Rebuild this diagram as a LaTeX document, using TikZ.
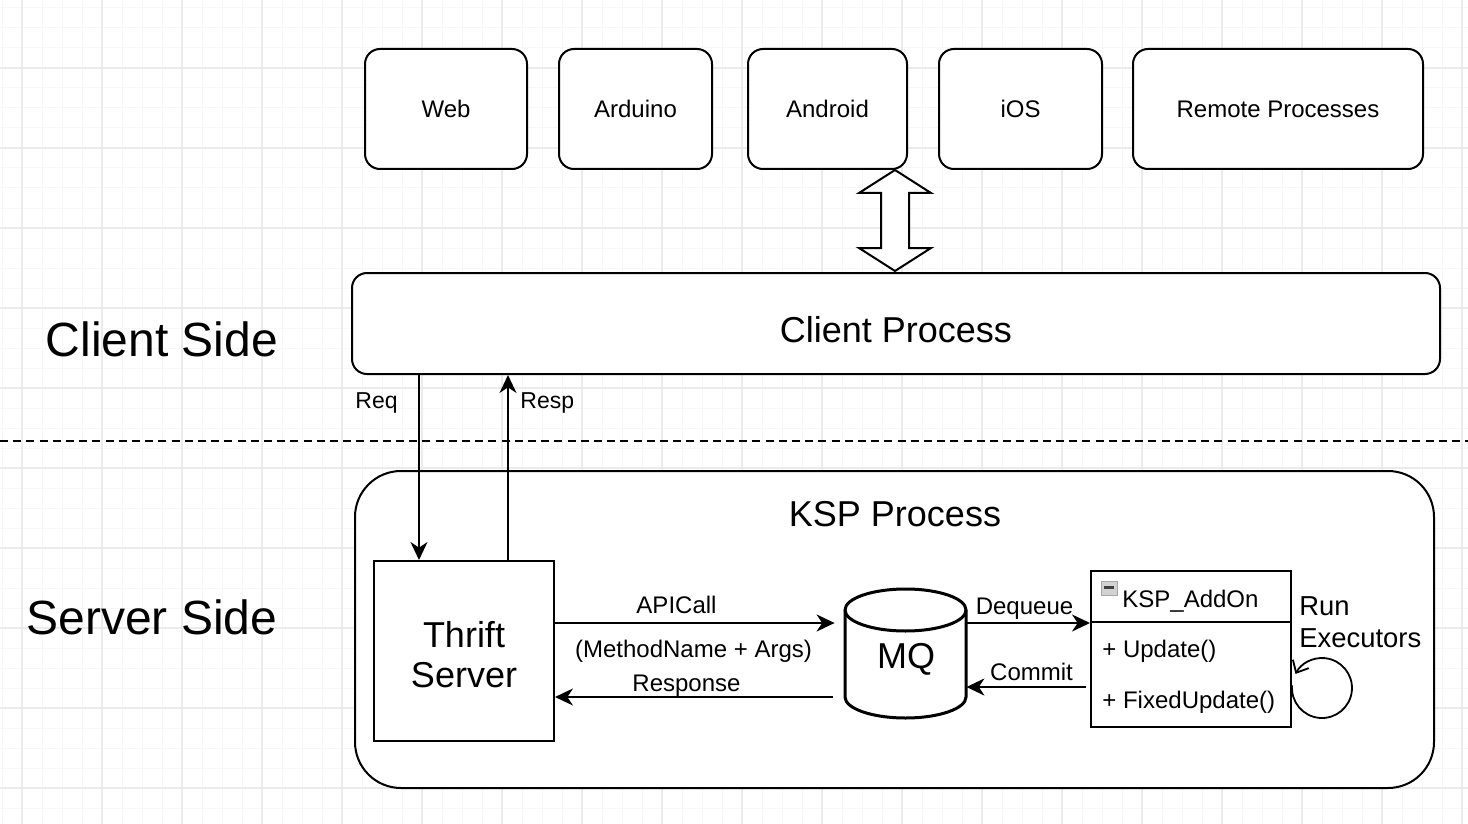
\documentclass[tikz,border=0pt]{standalone}
\usepackage{fontspec}
\setmainfont{Liberation Sans}
\usetikzlibrary{arrows.meta}
\definecolor{gridminor}{HTML}{F7F7F7}
\definecolor{gridmajor}{HTML}{EBEBEB}
\begin{document}
\begin{tikzpicture}[x=0.5pt,y=-0.5pt,
  topbox/.style={draw, line width=1pt, fill=white, rounded corners=7.5pt, minimum height=60pt, inner sep=0pt, font=\fontsize{12}{14}\selectfont},
  plainbox/.style={draw, line width=1pt, fill=white, inner sep=0pt},
  arr/.style={line width=1pt, -{Stealth[length=9pt,width=8.5pt,inset=2.8pt]}},
  lbl/.style={inner sep=0pt, anchor=base, font=\fontsize{12}{14}\selectfont},
  big/.style={inner sep=0pt, anchor=base, font=\fontsize{18}{20}\selectfont},
  huge/.style={inner sep=0pt, anchor=base, font=\fontsize{24}{28}\selectfont},
]
\useasboundingbox (0,0) rectangle (1468,824);
\fill[white] (0,0) rectangle (1468,824);
% grid
\foreach \x in {2,22,...,1462} \draw[gridminor, line width=0.5pt] (\x,0) -- (\x,824);
\foreach \y in {8,28,...,808} \draw[gridminor, line width=0.5pt] (0,\y) -- (1468,\y);
\foreach \x in {22,102,...,1462} \draw[gridmajor, line width=0.6pt] (\x,0) -- (\x,824);
\foreach \y in {68,148,...,788} \draw[gridmajor, line width=0.6pt] (0,\y) -- (1468,\y);

% side labels
\node[huge] (clientside) at (162,356) {Client Side};
\node[huge] (serverside) at (152,634) {Server Side};

% separator
\draw[line width=1pt, dash pattern=on 4pt off 2.6pt] (0,441) -- (1468,441);

% top boxes
\node[topbox, minimum width=81pt] (web) at (446,109) {Web};
\node[topbox, minimum width=76.5pt] (arduino) at (635.5,109) {Arduino};
\node[topbox, minimum width=79.5pt] (android) at (827.5,109) {Android};
\node[topbox, minimum width=81.5pt] (ios) at (1020.5,109) {iOS};
\node[topbox, minimum width=145pt] (remote) at (1278,109) {Remote Processes};

% client process
\node[draw, line width=1pt, fill=white, rounded corners=7.5pt, minimum width=544pt, minimum height=50.5pt, inner sep=0pt] (clientproc) at (896,323.5) {};
\node[big] (clientproctext) at (896,342) {Client Process};

% double block arrow
\draw[line width=1pt, fill=white, line join=miter] (895,170) -- (859,193) -- (881,193) -- (881,248) -- (859,248) -- (895,271) -- (931,248) -- (909,248) -- (909,193) -- (931,193) -- cycle;

% KSP process container
\node[draw, line width=1pt, fill=white, rounded corners=23pt, minimum width=539.5pt, minimum height=158.5pt, inner sep=0pt] (ksp) at (894.5,629.5) {};
\node[big] (ksptext) at (895,526) {KSP Process};

% thrift server
\node[plainbox, minimum width=90pt, minimum height=90pt] (thrift) at (464,651) {};
\node[big] (thrift1) at (464,647) {Thrift};
\node[big] (thrift2) at (464,687) {Server};

% req / resp
\coordinate (reqx) at (419,0);
\coordinate (respx) at (508,0);
\draw[arr] (clientproc.south -| reqx) -- (thrift.north -| reqx);
\draw[arr] (thrift.north -| respx) -- (clientproc.south -| respx);
\node[lbl, anchor=base west, font=\fontsize{11.5}{13}\selectfont] (reqlbl) at (355,408) {Req};
\node[lbl, anchor=base west, font=\fontsize{11.5}{13}\selectfont] (resplbl) at (520,408) {Resp};

% MQ cylinder
\node[inner sep=0pt, minimum width=60.5pt, minimum height=64.5pt] (mq) at (905.5,653.5) {};
\draw[line width=1.5pt, fill=white] (845,610) -- (845,697) arc[start angle=180, end angle=360, x radius=30.25pt, y radius=10.5pt] -- (966,610) arc[start angle=0, end angle=180, x radius=30.25pt, y radius=10.5pt] -- cycle;
\draw[line width=1.5pt] (845,610) arc[start angle=180, end angle=360, x radius=30.25pt, y radius=10.5pt];
\node[big] (mqtext) at (906,668) {MQ};

% KSP_AddOn class box
\node[plainbox, minimum width=100pt, minimum height=78pt] (addon) at (1191,649) {};
\draw[line width=1pt] (addon.west |- 0,622) -- (addon.east |- 0,622);
\fill[gray!35] (1101,581) rectangle (1117,595);
\draw[gray!70, line width=0.4pt] (1101,581) rectangle (1117,595);
\fill[black!75] (1104,586) rectangle (1114,589);
\node[lbl, anchor=base west] (addontitle) at (1122,607) {KSP\_AddOn};
\node[lbl, anchor=base west] (upd) at (1102,657) {+ Update()};
\node[lbl, anchor=base west] (fupd) at (1102,708) {+ FixedUpdate()};

% thrift <-> mq
\coordinate (apiy) at (0,623);
\coordinate (respy) at (0,697);
\draw[arr] (thrift.east |- apiy) -- ([xshift=-5pt]mq.west |- apiy);
\draw[arr] ([xshift=-6pt]mq.west |- respy) -- (thrift.east |- respy);
\node[lbl] (apilbl) at (676.5,613) {APICall};
\node[lbl] (argslbl) at (693.5,657) {(MethodName + Args)};
\node[lbl] (resplbl2) at (686.5,691) {Response};

% mq <-> addon
\coordinate (deqy) at (0,623);
\coordinate (comy) at (0,687);
\draw[arr] (mq.east |- deqy) -- (addon.west |- deqy);
\draw[arr] ([xshift=-2pt]addon.west |- comy) -- (mq.east |- comy);
\node[lbl] (deqlbl) at (1024.5,614) {Dequeue};
\node[lbl] (comlbl) at (1031.5,680) {Commit};

% run executors loop
\node[inner sep=0pt, anchor=base west, font=\fontsize{13.7}{15}\selectfont] (run) at (1299,615) {Run};
\node[inner sep=0pt, anchor=base west, font=\fontsize{13.7}{15}\selectfont] (exec) at (1299,647) {Executors};
\coordinate (loopstart) at (1292.1,685.4);
\draw[line width=0.9pt, -{Straight Barb[length=5pt,width=9pt]}] (loopstart) arc[start angle=175, end angle=512, radius=15pt];
\end{tikzpicture}
\end{document}
